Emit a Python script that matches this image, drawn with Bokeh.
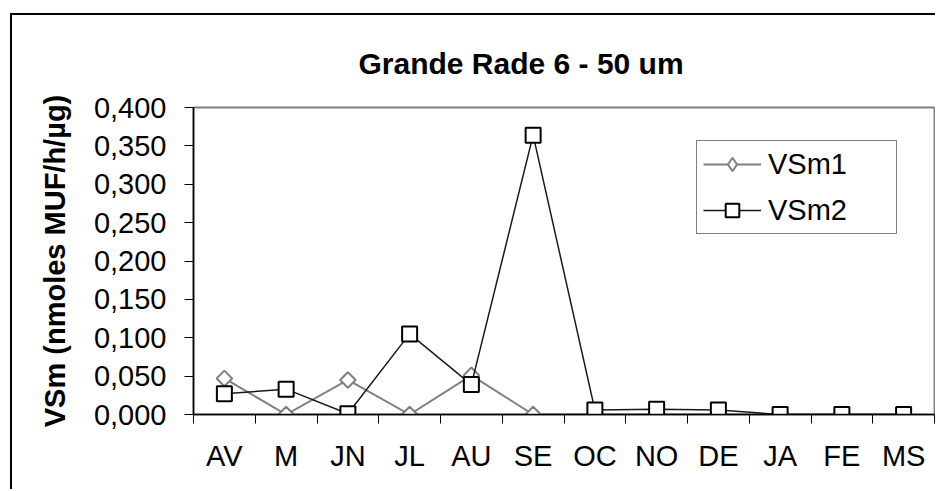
from bokeh.plotting import figure
from bokeh.models import FixedTicker, Legend, LegendItem, LinearAxis
from bokeh.embed import file_html
from bokeh.resources import INLINE

# ---- data ----
months = ["AV", "M", "JN", "JL", "AU", "SE", "OC", "NO", "DE", "JA", "FE", "MS"]
vsm1 = [0.047, 0.000, 0.045, 0.000, 0.051, 0.000, 0.000, 0.000, 0.000, 0.000, 0.000, 0.000]
vsm2 = [0.027, 0.033, 0.001, 0.105, 0.039, 0.364, 0.006, 0.007, 0.006, 0.000, 0.000, 0.000]
y_ticks = [0.0, 0.05, 0.1, 0.15, 0.2, 0.25, 0.3, 0.35, 0.4]
y_tick_labels = ["0,000", "0,050", "0,100", "0,150", "0,200", "0,250", "0,300", "0,350", "0,400"]
series_names = ["VSm1", "VSm2"]
title_text = "Grande Rade  6 - 50 um"
y_label = "VSm (nmoles MUF/h/\u00b5g)"

FONT = "Liberation Sans"

xs = [i + 0.5 for i in range(len(months))]
boundaries = list(range(len(months) + 1))

p = figure(
    width=925, height=476,
    x_range=(0, len(months)), y_range=(y_ticks[0], y_ticks[-1]),
    output_backend="svg", toolbar_location=None,
    min_border_left=181, min_border_right=3, min_border_top=92, min_border_bottom=77,
    x_axis_type=None, y_axis_type=None,
    styles={"position": "relative", "left": "10px", "top": "13px",
            "border-left": "2px solid black", "border-top": "2px solid black"},
)
p.background_fill_color = "white"
p.border_fill_color = "white"
p.outline_line_color = "#808080"
p.outline_line_width = 2
p.xgrid.visible = False
p.ygrid.visible = False

xaxis = LinearAxis(
    ticker=FixedTicker(ticks=xs, minor_ticks=boundaries),
    major_label_overrides={x: m for x, m in zip(xs, months)},
    major_tick_out=0, major_tick_in=0,
    minor_tick_out=9, minor_tick_in=0,
    minor_tick_line_color="black", minor_tick_line_width=1,
    axis_line_color="black", axis_line_width=1.5,
    major_label_text_font=FONT, major_label_text_font_size="29px",
    major_label_text_color="black", major_label_standoff=16,
)
p.add_layout(xaxis, "below")

yaxis = LinearAxis(
    ticker=FixedTicker(ticks=y_ticks, minor_ticks=[]),
    major_label_overrides={t: l for t, l in zip(y_ticks, y_tick_labels)},
    major_tick_out=9, major_tick_in=0,
    major_tick_line_color="black", major_tick_line_width=1,
    axis_line_color="black", axis_line_width=1.5,
    major_label_text_font=FONT, major_label_text_font_size="29px",
    major_label_text_color="black", major_label_standoff=18,
    axis_label=y_label, axis_label_text_font=FONT,
    axis_label_text_font_size="29px", axis_label_text_font_style="bold",
    axis_label_text_color="black", axis_label_standoff=20,
)
p.add_layout(yaxis, "left")

p.title.text = title_text
p.title.text_font = FONT
p.title.text_font_size = "30px"
p.title.text_font_style = "bold"
p.title.text_color = "black"
p.title.align = "left"
p.title.offset = 165
p.title.standoff = 56

l1 = p.line(xs, vsm1, line_color="#808080", line_width=2)
s1 = p.scatter(xs, vsm1, marker="square", angle=0.785398, size=11,
               fill_color="white", line_color="#808080", line_width=2)
l2 = p.line(xs, vsm2, line_color="#1a1a1a", line_width=1.5)
s2 = p.scatter(xs, vsm2, marker="square", size=15,
               fill_color="white", line_color="black", line_width=2)
# legend-only marker (legend glyphs are drawn unrotated), hidden in the plot
s1_key = p.scatter(xs, vsm1, marker="diamond", size=12,
                   fill_color="white", line_color="#808080", line_width=2,
                   visible=False)

legend = Legend(
    items=[LegendItem(label=series_names[0], renderers=[l1, s1_key]),
           LegendItem(label=series_names[1], renderers=[l2, s2])],
    location=(503, 180), margin=0, padding=6, spacing=12,
    glyph_width=58, glyph_height=34, label_standoff=7, label_width=122,
    label_text_font=FONT, label_text_font_size="29px", label_text_color="black",
    border_line_color="black", border_line_width=1,
    background_fill_color="white", background_fill_alpha=1,
)
p.add_layout(legend, "center")

open("out.html", "w").write(file_html(p, INLINE))
